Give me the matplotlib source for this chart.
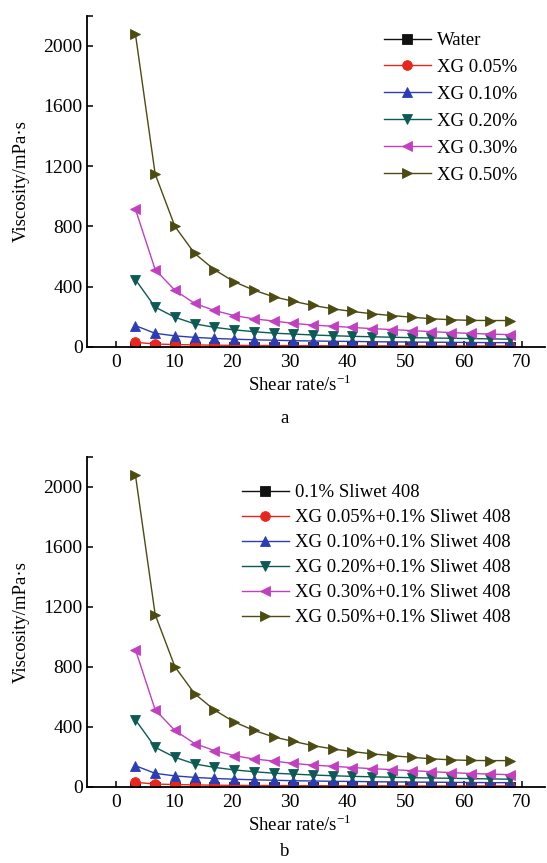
#!/usr/bin/env python3
"""
Viscosity vs shear rate for XG solutions, with and without Sliwet 408 (two panels)
"""

import numpy as np
import matplotlib
matplotlib.use('Agg')
import matplotlib.pyplot as plt

plt.rcParams['font.family'] = ['Liberation Serif', 'DejaVu Serif']
plt.rcParams['mathtext.fontset'] = 'stix'

# shear rate (1/s)
shear_rate = [3.4, 6.8, 10.2, 13.6, 17.0, 20.4, 23.8, 27.2, 30.6, 34.0,
              37.4, 40.8, 44.2, 47.6, 51.0, 54.4, 57.8, 61.2, 64.6, 68.0]

# panel a: viscosity (mPa.s)
water = [1, 1, 1, 1, 1, 1, 1, 1, 1, 1, 1, 1, 1, 1, 1, 1, 1, 1, 1, 1]
xg005 = [29, 18, 14, 12, 10, 9, 8, 8, 7, 7, 6, 6, 6, 6, 5, 5, 5, 5, 5, 5]
xg010 = [140, 89, 72, 62, 55, 50, 46, 43, 40, 38, 36, 35, 33, 32, 31, 30, 29, 28, 27, 27]
xg020 = [446, 263, 196, 152, 129, 112, 100, 90, 84, 78, 73, 69, 66, 63, 60, 58, 56, 54, 52, 50]
xg030 = [914, 513, 375, 288, 241, 207, 185, 171, 155, 144, 136, 128, 120, 114, 107, 100, 94, 88, 84, 80]
xg050 = [2078, 1148, 800, 620, 512, 432, 376, 332, 302, 274, 252, 234, 219, 207, 196, 186, 179, 175, 174, 174]

# panel b: viscosity (mPa.s) with 0.1% Sliwet 408
sliwet = [1, 1, 1, 1, 1, 1, 1, 1, 1, 1, 1, 1, 1, 1, 1, 1, 1, 1, 1, 1]
xg005_s = [29, 18, 14, 12, 10, 9, 8, 8, 7, 7, 6, 6, 6, 6, 5, 5, 5, 5, 5, 5]
xg010_s = [140, 89, 72, 62, 55, 50, 46, 43, 40, 38, 36, 35, 33, 32, 31, 30, 29, 28, 27, 27]
xg020_s = [446, 263, 196, 152, 129, 112, 100, 90, 84, 78, 73, 69, 66, 63, 60, 58, 56, 54, 52, 50]
xg030_s = [914, 513, 375, 288, 241, 207, 185, 171, 155, 144, 136, 128, 120, 114, 107, 100, 94, 88, 84, 80]
xg050_s = [2078, 1148, 800, 620, 512, 432, 376, 332, 302, 274, 252, 234, 219, 207, 196, 186, 179, 175, 174, 174]

labels_a = ['Water', 'XG 0.05%', 'XG 0.10%', 'XG 0.20%', 'XG 0.30%', 'XG 0.50%']
labels_b = ['0.1% Sliwet 408', 'XG 0.05%+0.1% Sliwet 408', 'XG 0.10%+0.1% Sliwet 408',
            'XG 0.20%+0.1% Sliwet 408', 'XG 0.30%+0.1% Sliwet 408', 'XG 0.50%+0.1% Sliwet 408']

colors = ['#111111', '#e8261c', '#2b3cb5', '#0d5a55', '#c23fc2', '#4b4b12']
markers = ['s', 'o', '^', 'v', '<', '>']

W, H = 547, 863
FS = 13.5


def draw_panel(ax, series, labels, leg_x, leg_y, spacing, letter, letter_y):
    for y, lab, c, m in zip(series, labels, colors, markers):
        ax.plot(shear_rate, y, color=c, marker=m, markersize=7, linewidth=1.0,
                markeredgewidth=0.6, label=lab)
    ax.set_xlim(-5, 74)
    ax.set_ylim(0, 2200)
    ax.set_xticks(np.arange(0, 71, 10))
    ax.set_yticks(np.arange(0, 2001, 400))
    ax.set_yticks([2200], minor=True)
    ax.tick_params(axis='both', which='both', direction='in', labelsize=14, width=1.1)
    ax.tick_params(axis='both', which='major', length=4)
    ax.tick_params(axis='y', which='minor', length=4)
    ax.tick_params(axis='x', pad=5)
    ax.tick_params(axis='y', pad=3)
    for s in ['top', 'right']:
        ax.spines[s].set_visible(False)
    for s in ['left', 'bottom']:
        ax.spines[s].set_linewidth(1.3)
    ax.set_xlabel('Shear rate/s$^{\\mathregular{-1}}$', fontsize=FS)
    ax.xaxis.set_label_coords(0.465, -0.085)
    ax.set_ylabel('Viscosity/mPa·s', fontsize=FS, labelpad=10)
    ax.legend(loc='upper left', bbox_to_anchor=(leg_x / W, 1 - leg_y / H),
              bbox_transform=ax.figure.transFigure, frameon=False, fontsize=FS,
              handlelength=2.5, handletextpad=0.35, labelspacing=spacing,
              borderpad=0, borderaxespad=0)
    ax.figure.text(0.52, 1 - letter_y / H, letter, fontsize=FS, ha='center', va='center')


fig = plt.figure(figsize=(W / 100, H / 100), dpi=100)
ax1 = fig.add_axes([86.7 / W, 1 - 346.7 / H, (545 - 86.7) / W, (346.7 - 15.7) / H])
ax2 = fig.add_axes([86.7 / W, 1 - 786.7 / H, (545 - 86.7) / W, (786.7 - 456.7) / H])

draw_panel(ax1, [water, xg005, xg010, xg020, xg030, xg050], labels_a, 384, 32, 0.52, 'a', 418)
draw_panel(ax2, [sliwet, xg005_s, xg010_s, xg020_s, xg030_s, xg050_s], labels_b, 242, 484, 0.42, 'b', 851)

fig.savefig('out.png', dpi=100)
